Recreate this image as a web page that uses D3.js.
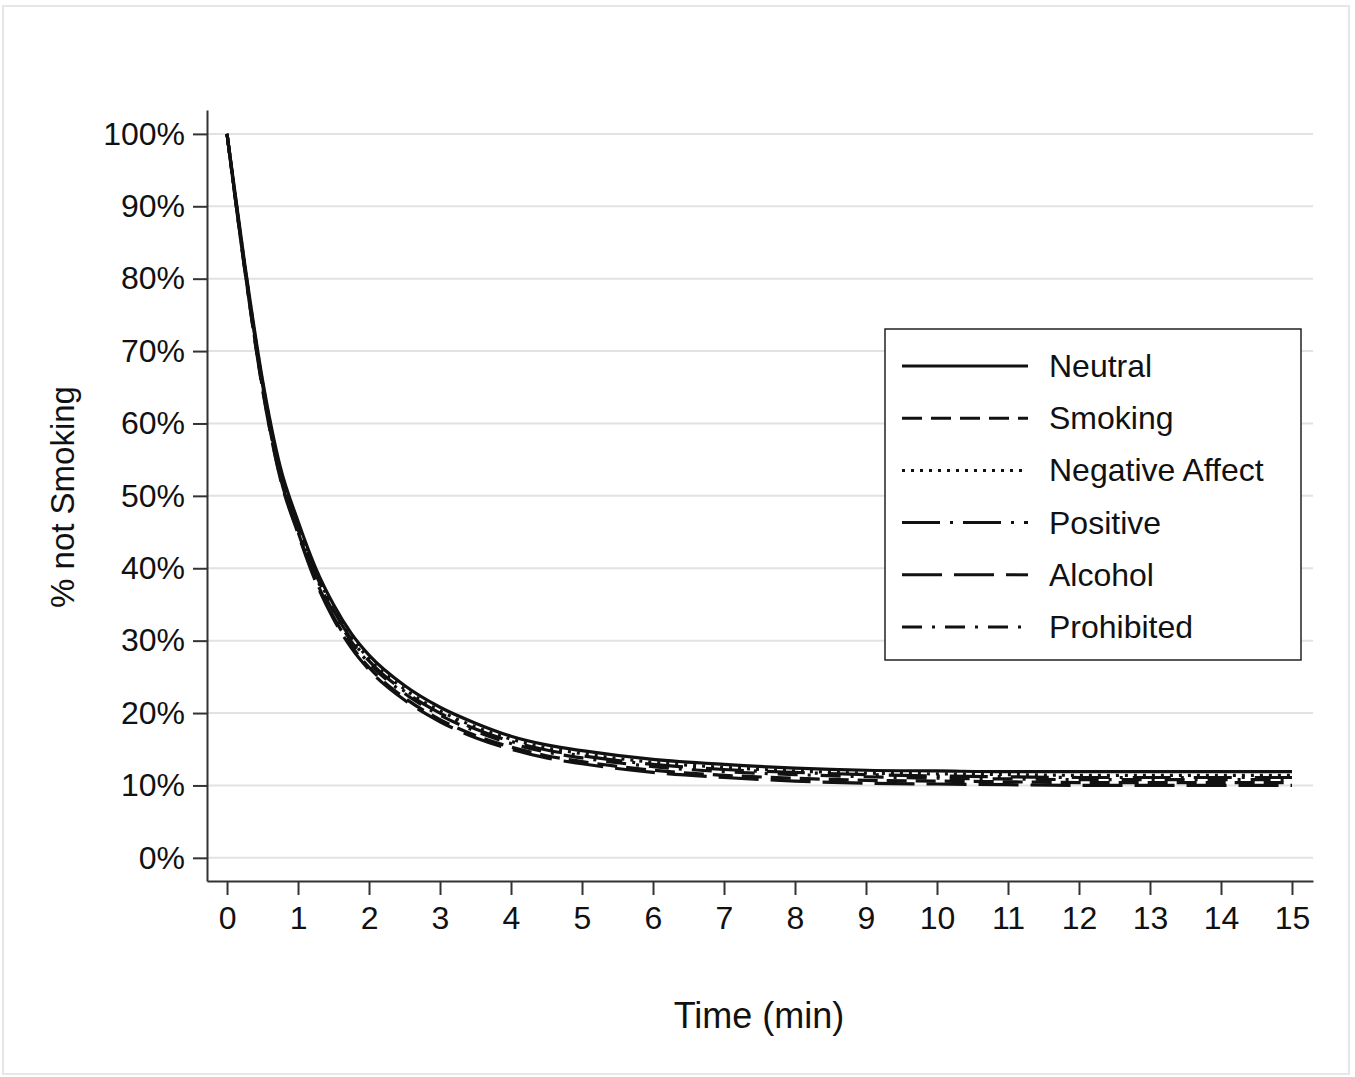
<!DOCTYPE html>
<html>
<head>
<meta charset="utf-8">
<style>
  body { margin: 0; background: #fff; }
  svg { display: block; }
  text { font-family: "Liberation Sans", Arial, Helvetica, sans-serif; fill: #111; }
</style>
</head>
<body>
<div id="chart"></div>
<script src="https://d3js.org/d3.v7.min.js"></script>
<script>
// data (minutes, % not smoking)
const times = [0, 0.25, 0.5, 0.75, 1, 1.25, 1.5, 1.75, 2, 2.5, 3, 3.5, 4, 4.5, 5, 6, 7, 8, 9, 10, 11, 12, 13, 14, 15];
const neutral    = [100, 82.0, 66.0, 54.0, 46.5, 40.0, 35.0, 31.0, 28.0, 23.8, 20.8, 18.6, 16.8, 15.6, 14.8, 13.6, 12.9, 12.4, 12.1, 12.0, 11.9, 11.9, 11.9, 11.9, 11.9];
const smoking    = [100, 81.3, 64.9, 52.6, 45.0, 38.4, 33.3, 29.3, 26.3, 22.1, 19.1, 16.9, 15.3, 14.1, 13.3, 12.1, 11.4, 11.0, 10.7, 10.6, 10.5, 10.4, 10.4, 10.4, 10.4];
const negative   = [100, 81.8, 65.7, 53.6, 46.0, 39.5, 34.5, 30.5, 27.5, 23.3, 20.3, 18.1, 16.4, 15.2, 14.4, 13.2, 12.5, 12.0, 11.7, 11.6, 11.5, 11.4, 11.4, 11.4, 11.4];
const positive   = [100, 81.6, 65.4, 53.3, 45.7, 39.2, 34.2, 30.2, 27.2, 23.0, 20.0, 17.8, 16.1, 14.9, 14.1, 12.9, 12.2, 11.8, 11.5, 11.3, 11.2, 11.1, 11.1, 11.1, 11.1];
const alcohol    = [100, 81.2, 64.7, 52.4, 44.8, 38.1, 33.0, 29.0, 26.0, 21.8, 18.8, 16.6, 15.0, 13.8, 13.0, 11.8, 11.1, 10.6, 10.3, 10.2, 10.1, 10.0, 10.0, 10.0, 10.0];
const prohibited = [100, 81.5, 65.2, 53.0, 45.4, 38.9, 33.9, 29.9, 26.9, 22.7, 19.7, 17.5, 15.8, 14.6, 13.8, 12.6, 11.9, 11.5, 11.2, 11.0, 10.9, 10.8, 10.8, 10.8, 10.8];

const seriesNames = ['Neutral', 'Smoking', 'Negative Affect', 'Positive', 'Alcohol', 'Prohibited'];
const seriesValues = [neutral, smoking, negative, positive, alcohol, prohibited];
const dashes = ['none', '20,9', '3,6', '38,10,3,10', '40,12', '20,10,3,10'];

const xTicks = d3.range(0, 16);
const yTicks = d3.range(0, 101, 10);

const W = 1355, H = 1077;
const svg = d3.select('#chart').append('svg').attr('width', W).attr('height', H);

// outer frame
svg.append('rect').attr('x', 3).attr('y', 6).attr('width', 1346).attr('height', 1068)
   .attr('fill', '#fff').attr('stroke', '#e6e6e6').attr('stroke-width', 2);

const x = d3.scaleLinear().domain([-0.282, 15.296]).range([207, 1313]);
const y = d3.scaleLinear().domain([-3.2, 103.3]).range([881, 110]);

// gridlines
svg.append('g').selectAll('line').data(yTicks).enter().append('line')
   .attr('x1', 207).attr('x2', 1313)
   .attr('y1', d => y(d)).attr('y2', d => y(d))
   .style('stroke', '#e2e2e2').style('stroke-width', 2);

// axes
const yAxis = svg.append('g').attr('transform', 'translate(207,0)')
   .call(d3.axisLeft(y).tickValues(yTicks).tickSizeInner(14).tickSizeOuter(0).tickPadding(8).tickFormat(d => d + '%'));
const xAxis = svg.append('g').attr('transform', 'translate(0,881)')
   .call(d3.axisBottom(x).tickValues(xTicks).tickSizeInner(14).tickSizeOuter(0).tickPadding(10));
[yAxis, xAxis].forEach(g => {
  g.select('.domain').style('stroke', '#333').style('stroke-width', 2);
  g.selectAll('.tick line').style('stroke', '#333').style('stroke-width', 2);
  g.selectAll('.tick text').style('font-size', '32px').style('fill', '#111');
});
xAxis.selectAll('.tick text').attr('dy', '0.75em');

// lines
const line = d3.line().x((d, i) => x(times[i])).y(d => y(d)).curve(d3.curveMonotoneX);
svg.append('g').selectAll('path').data(seriesValues).enter().append('path')
   .attr('d', d => line(d))
   .attr('fill', 'none')
   .attr('stroke', '#111')
   .attr('stroke-width', 3.2)
   .attr('stroke-dasharray', (d, i) => dashes[i]);

// axis titles
svg.append('text').attr('transform', 'translate(74,497) rotate(-90)')
   .attr('text-anchor', 'middle').style('font-size', '33px').text('% not Smoking');
svg.append('text').attr('x', 759).attr('y', 1028)
   .attr('text-anchor', 'middle').style('font-size', '36px').text('Time (min)');

// legend
const lg = svg.append('g');
lg.append('rect').attr('x', 885).attr('y', 329).attr('width', 416).attr('height', 331)
  .attr('fill', '#fff').attr('stroke', '#222').attr('stroke-width', 1.5);
const items = lg.selectAll('g.item').data(seriesNames).enter().append('g')
  .attr('transform', (d, i) => `translate(0,${366 + i * 52.2})`);
items.append('line').attr('x1', 902).attr('x2', 1028).attr('y1', 0).attr('y2', 0)
  .attr('stroke', '#111').attr('stroke-width', 3)
  .attr('stroke-dasharray', (d, i) => dashes[i]);
items.append('text').attr('x', 1049).attr('y', 11).style('font-size', '32px').text(d => d);
</script>
</body>
</html>
